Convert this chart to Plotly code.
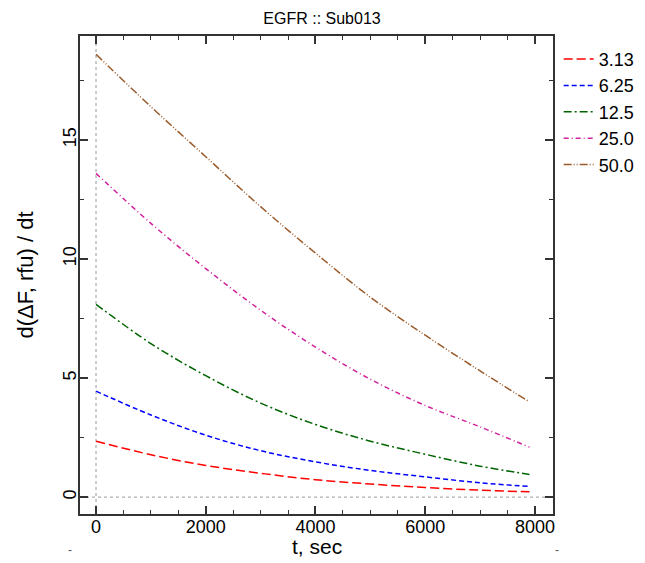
import plotly.graph_objects as go

t_sec = [0, 1000, 2000, 3000, 4000, 5000, 6000, 7000, 7900]
conc_labels = ["3.13", "6.25", "12.5", "25.0", "50.0"]
rate_313 = [2.35, 1.78, 1.33, 1.00, 0.73, 0.55, 0.40, 0.29, 0.22]
rate_625 = [4.45, 3.45, 2.60, 1.95, 1.48, 1.12, 0.85, 0.60, 0.45]
rate_125 = [8.10, 6.45, 5.10, 3.95, 3.05, 2.35, 1.80, 1.30, 0.95]
rate_250 = [13.6, 11.5, 9.60, 7.85, 6.30, 4.95, 3.85, 2.95, 2.10]
rate_500 = [18.6, 16.4, 14.3, 12.2, 10.25, 8.40, 6.80, 5.30, 4.00]

series = [rate_313, rate_625, rate_125, rate_250, rate_500]
colors = ["#FF0000", "#0000FF", "#006400", "#D0209A", "#9A5A2A"]
dashes = ["9px,4px", "5px,3px", "8px,3px,2px,3px", "5px,3px,1px,3px",
          "8px,2px,1px,2px,1px,2px"]

fig = go.Figure()
for lab, ys, c, d in zip(conc_labels, series, colors, dashes):
    fig.add_trace(go.Scatter(x=t_sec, y=ys, mode="lines", name=lab,
                             line=dict(color=c, dash=d, width=1.5, shape="spline")))

fig.add_shape(type="line", xref="paper", yref="y", x0=0, x1=1, y0=0, y1=0,
              line=dict(color="#999999", width=1, dash="dot"), layer="below")
fig.add_shape(type="line", xref="x", yref="paper", x0=0, x1=0, y0=0, y1=1,
              line=dict(color="#999999", width=1, dash="dot"), layer="below")

# page body has an 8px margin, so figure coords = window coords - 8
W, H = 637, 555
L, T = 72, 28
R = W - 545
B = H - 506
pw, ph = W - L - R, H - T - B

font = "Liberation Sans, Arial, sans-serif"
fig.update_layout(
    width=W, height=H,
    margin=dict(l=L, r=R, t=T, b=B, autoexpand=False),
    paper_bgcolor="white", plot_bgcolor="white",
    font=dict(family=font, color="black", size=18),
    title=dict(text="EGFR :: Sub013", x=(322 - 8) / W, xanchor="center",
               xref="container", y=1 - 10 / H, yanchor="middle", font=dict(size=16)),
    legend=dict(x=1.012, xanchor="left", y=0.99, yanchor="top",
                font=dict(size=18), tracegroupgap=0, itemwidth=30,
                bgcolor="rgba(0,0,0,0)"),
    showlegend=True,
)
fig.update_xaxes(range=[-292, 8329], dtick=2000, tick0=0, automargin=False,
                 showgrid=False, zeroline=False,
                 showline=True, linecolor="#333333", linewidth=2, mirror="ticks",
                 ticks="inside", ticklen=8, tickwidth=1.5, tickcolor="#333333",
                 minor=dict(ticks="inside", dtick=500, ticklen=4, tickwidth=1,
                            tickcolor="#333333", showgrid=False),
                 tickfont=dict(size=18), ticklabelstandoff=-5)
fig.update_yaxes(range=[-0.71, 19.37], dtick=5, tick0=0, automargin=False,
                 showgrid=False, zeroline=False,
                 showline=True, linecolor="#333333", linewidth=2, mirror="ticks",
                 ticks="inside", ticklen=8, tickwidth=1.5, tickcolor="#333333",
                 minor=dict(ticks="inside", dtick=2.5, ticklen=4, tickwidth=1,
                            tickcolor="#333333", showgrid=False),
                 tickangle=-90, tickfont=dict(size=18), ticklabelstandoff=-5,
                 title=dict(text="d(ΔF, rfu) / dt", font=dict(size=22), standoff=20))

fig.add_annotation(text="t, sec", x=0.5, y=(H - B - (546 - 8)) / ph,
                   xref="paper", yref="paper", showarrow=False,
                   xanchor="center", yanchor="middle", font=dict(size=21))

for xp in [66, 561]:
    fig.add_annotation(text="-", x=(xp - 8 - L) / pw, y=(H - B - (559 - 8)) / ph,
                       xref="paper", yref="paper", showarrow=False,
                       font=dict(size=12, color="#555555"))

fig.write_html("out.html")
